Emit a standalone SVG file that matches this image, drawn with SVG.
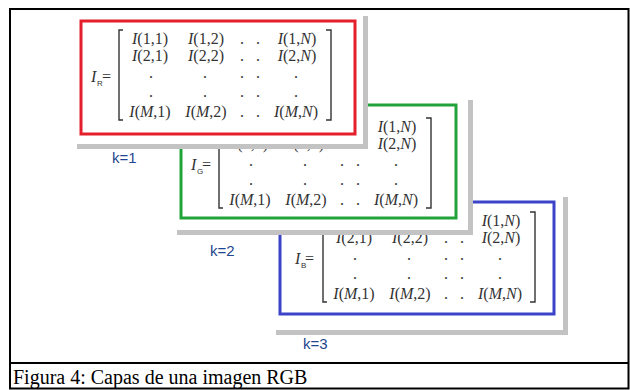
<svg xmlns="http://www.w3.org/2000/svg" xmlns:xlink="http://www.w3.org/1999/xlink" width="630" height="390" viewBox="0 0 630 390">
<style>
.m{font-family:"Liberation Serif","DejaVu Serif",serif;font-size:16px;fill:#333;text-anchor:middle}
.i{font-style:italic}
.eq{font-family:"Liberation Serif","DejaVu Serif",serif;font-size:16px;fill:#333}
.sub{font-family:"Liberation Sans",Arial,sans-serif;font-size:8px;fill:#333}
.br{fill:none;stroke:#333;stroke-width:1.4}
.shadow{fill:#c3c3c3}
.panel{fill:#fff}
.k{font-family:"Liberation Sans",Arial,sans-serif;font-size:15px;fill:#1f4690}
.cap{font-family:"Liberation Serif","Times New Roman",serif;font-size:20px;fill:#000}
</style>
<defs>
<g id="mat">
<path class="br" d="M123,30 H119 V120 H123"/>
<path class="br" d="M326,30 H331 V120 H326"/>
<text class="m" x="150" y="44"><tspan class="i">I</tspan>(1,1)</text>
<text class="m" x="206" y="44"><tspan class="i">I</tspan>(1,2)</text>
<text class="m" x="242" y="44">.</text><text class="m" x="258" y="44">.</text>
<text class="m" x="297" y="44"><tspan class="i">I</tspan>(1,<tspan class="i">N</tspan>)</text>
<text class="m" x="150" y="61"><tspan class="i">I</tspan>(2,1)</text>
<text class="m" x="206" y="61"><tspan class="i">I</tspan>(2,2)</text>
<text class="m" x="242" y="61">.</text><text class="m" x="258" y="61">.</text>
<text class="m" x="297" y="61"><tspan class="i">I</tspan>(2,<tspan class="i">N</tspan>)</text>
<text class="m" x="151" y="78">.</text><text class="m" x="205" y="78">.</text>
<text class="m" x="242" y="78">.</text><text class="m" x="258" y="78">.</text><text class="m" x="296" y="78">.</text>
<text class="m" x="151" y="97">.</text><text class="m" x="205" y="97">.</text>
<text class="m" x="242" y="97">.</text><text class="m" x="258" y="97">.</text><text class="m" x="296" y="97">.</text>
<text class="m" x="150" y="117"><tspan class="i">I</tspan>(<tspan class="i">M</tspan>,1)</text>
<text class="m" x="206" y="117"><tspan class="i">I</tspan>(<tspan class="i">M</tspan>,2)</text>
<text class="m" x="242" y="117">.</text><text class="m" x="258" y="117">.</text>
<text class="m" x="296" y="117"><tspan class="i">I</tspan>(<tspan class="i">M</tspan>,<tspan class="i">N</tspan>)</text>
</g>
</defs>
<rect x="0" y="0" width="630" height="390" fill="#fff"/>

<g id="layer-B">
<rect class="shadow" x="276" y="197" width="292" height="138"/>
<rect class="panel" x="276" y="193" width="287" height="137"/>
<rect x="280" y="202" width="274" height="112" fill="none" stroke="#3b43c9" stroke-width="3"/>
<use xlink:href="#mat" transform="translate(204,182)"/>
<text class="eq" x="295" y="264"><tspan class="i">I</tspan></text>
<text class="sub" x="301" y="268">B</text>
<text class="eq" x="305" y="264">=</text>
<text class="k" x="303" y="349">k=3</text>
</g>

<g id="layer-G">
<rect class="shadow" x="177" y="100" width="296" height="135"/>
<rect class="panel" x="177" y="96" width="291" height="134"/>
<rect x="181" y="105" width="275" height="113" fill="none" stroke="#22a33a" stroke-width="3"/>
<use xlink:href="#mat" transform="translate(100,88)"/>
<text class="eq" x="191" y="170"><tspan class="i">I</tspan></text>
<text class="sub" x="197" y="174">G</text>
<text class="eq" x="202" y="170">=</text>
<text class="k" x="210" y="256">k=2</text>
</g>

<g id="layer-R">
<rect class="shadow" x="77" y="16" width="291" height="133"/>
<rect class="panel" x="77" y="12" width="286" height="132"/>
<rect x="81" y="21" width="274" height="113" fill="none" stroke="#e41e2b" stroke-width="3"/>
<use xlink:href="#mat"/>
<text class="eq" x="91" y="82"><tspan class="i">I</tspan></text>
<text class="sub" x="97" y="86">R</text>
<text class="eq" x="102" y="82">=</text>
<text class="k" x="112" y="163">k=1</text>
</g>

<g id="frame">
<rect x="10" y="9" width="618.5" height="379.5" fill="none" stroke="#000" stroke-width="2"/>
<line x1="10" y1="363" x2="628.5" y2="363" stroke="#000" stroke-width="2"/>
<text class="cap" x="13" y="384">Figura 4: Capas de una imagen RGB</text>
</g>
</svg>
